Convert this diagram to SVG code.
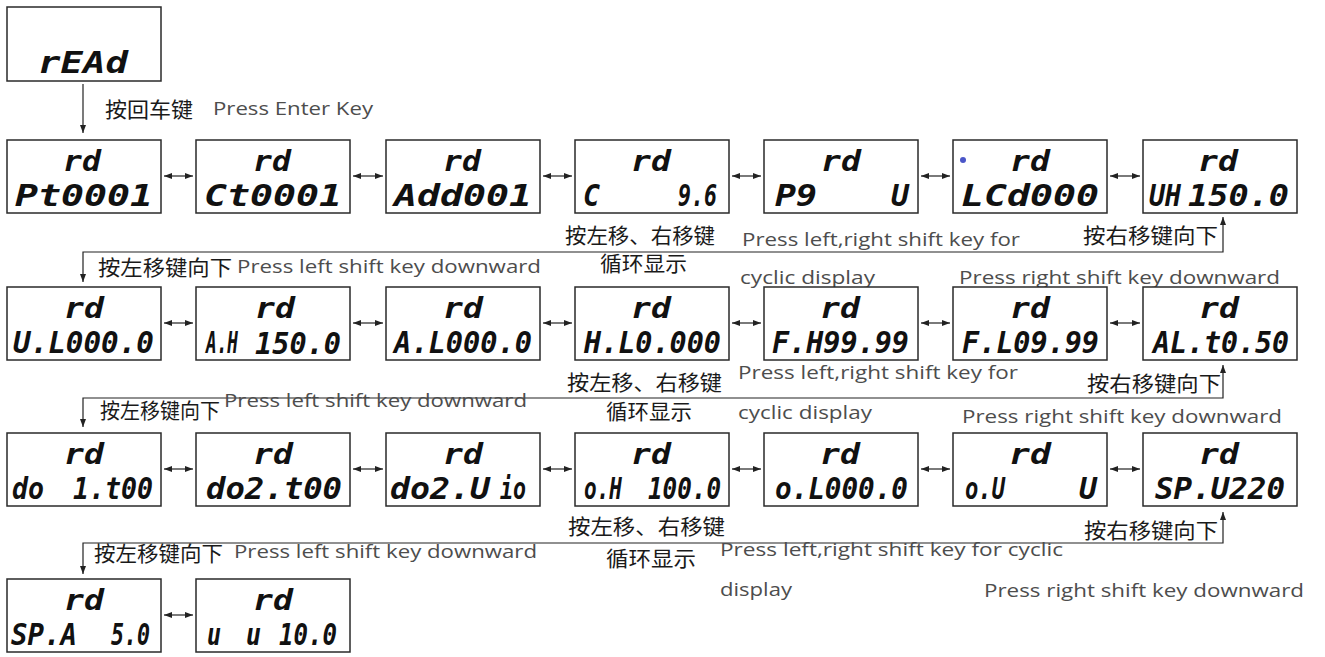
<svg xmlns="http://www.w3.org/2000/svg" width="1325" height="657" viewBox="0 0 1325 657">
<style>
.box{fill:#fff;stroke:#2a2a2a;stroke-width:1.5}
.lcd{font-family:"DejaVu Sans Mono",monospace;font-weight:bold;font-style:italic;font-size:30px;fill:#111}
.rd{font-family:"DejaVu Sans Mono",monospace;font-weight:bold;font-style:italic;font-size:29px;fill:#111}
.cn{font-family:"Noto Sans CJK SC","Noto Sans",sans-serif;font-size:21px;fill:#1a1a1a}
.en{font-family:"Open Sans","Noto Sans",sans-serif;font-size:18px;fill:#4d4d4d}
.ln{fill:none;stroke:#222;stroke-width:1.2}
</style>
<defs>
<marker id="ah" viewBox="0 0 8 6" markerWidth="8" markerHeight="6" refX="8" refY="3" orient="auto-start-reverse" markerUnits="userSpaceOnUse">
<path d="M0,0 L8,3 L0,6 z" fill="#222"/>
</marker>
</defs>

<g id="connectors">
<path class="ln" d="M83,84 V133" marker-end="url(#ah)"/>
<path class="ln" d="M1223,217 V252 H83 V282" marker-start="url(#ah)" marker-end="url(#ah)"/>
<path class="ln" d="M1223,365 V398 H83 V427" marker-start="url(#ah)" marker-end="url(#ah)"/>
<path class="ln" d="M1223,512 V543 H83 V574" marker-start="url(#ah)" marker-end="url(#ah)"/>
<path class="ln" d="M164,176 H193" marker-start="url(#ah)" marker-end="url(#ah)"/>
<path class="ln" d="M353,176 H383" marker-start="url(#ah)" marker-end="url(#ah)"/>
<path class="ln" d="M543,176 H572" marker-start="url(#ah)" marker-end="url(#ah)"/>
<path class="ln" d="M732,176 H761" marker-start="url(#ah)" marker-end="url(#ah)"/>
<path class="ln" d="M921,176 H950" marker-start="url(#ah)" marker-end="url(#ah)"/>
<path class="ln" d="M1110,176 H1140" marker-start="url(#ah)" marker-end="url(#ah)"/>
<path class="ln" d="M164,323 H193" marker-start="url(#ah)" marker-end="url(#ah)"/>
<path class="ln" d="M353,323 H383" marker-start="url(#ah)" marker-end="url(#ah)"/>
<path class="ln" d="M543,323 H572" marker-start="url(#ah)" marker-end="url(#ah)"/>
<path class="ln" d="M732,323 H761" marker-start="url(#ah)" marker-end="url(#ah)"/>
<path class="ln" d="M921,323 H950" marker-start="url(#ah)" marker-end="url(#ah)"/>
<path class="ln" d="M1110,323 H1140" marker-start="url(#ah)" marker-end="url(#ah)"/>
<path class="ln" d="M164,469 H193" marker-start="url(#ah)" marker-end="url(#ah)"/>
<path class="ln" d="M353,469 H383" marker-start="url(#ah)" marker-end="url(#ah)"/>
<path class="ln" d="M543,469 H572" marker-start="url(#ah)" marker-end="url(#ah)"/>
<path class="ln" d="M732,469 H761" marker-start="url(#ah)" marker-end="url(#ah)"/>
<path class="ln" d="M921,469 H950" marker-start="url(#ah)" marker-end="url(#ah)"/>
<path class="ln" d="M1110,469 H1140" marker-start="url(#ah)" marker-end="url(#ah)"/>
<path class="ln" d="M164,615 H193" marker-start="url(#ah)" marker-end="url(#ah)"/>
</g>

<g id="labels">
<text class="cn" x="105" y="117" textLength="88" lengthAdjust="spacingAndGlyphs">按回车键</text>
<text class="en" x="213" y="115" textLength="160" lengthAdjust="spacingAndGlyphs">Press Enter Key</text>

<text class="cn" x="565" y="243" textLength="150" lengthAdjust="spacingAndGlyphs">按左移、右移键</text>
<text class="cn" x="600" y="271" textLength="87" lengthAdjust="spacingAndGlyphs">循环显示</text>
<text class="en" x="742" y="246" textLength="278" lengthAdjust="spacingAndGlyphs">Press left,right shift key for</text>
<text class="en" x="740" y="284" textLength="135" lengthAdjust="spacingAndGlyphs">cyclic display</text>
<text class="cn" x="1083" y="243" textLength="135" lengthAdjust="spacingAndGlyphs">按右移键向下</text>
<text class="en" x="959" y="284" textLength="321" lengthAdjust="spacingAndGlyphs">Press right shift key downward</text>
<text class="cn" x="98" y="275" textLength="134" lengthAdjust="spacingAndGlyphs">按左移键向下</text>
<text class="en" x="237" y="273" textLength="304" lengthAdjust="spacingAndGlyphs">Press left shift key downward</text>

<text class="cn" x="567" y="390" textLength="155" lengthAdjust="spacingAndGlyphs">按左移、右移键</text>
<text class="cn" x="606" y="419" textLength="86" lengthAdjust="spacingAndGlyphs">循环显示</text>
<text class="en" x="738" y="379" textLength="280" lengthAdjust="spacingAndGlyphs">Press left,right shift key for</text>
<text class="en" x="738" y="419" textLength="134" lengthAdjust="spacingAndGlyphs">cyclic display</text>
<text class="cn" x="1087" y="391" textLength="134" lengthAdjust="spacingAndGlyphs">按右移键向下</text>
<text class="en" x="962" y="423" textLength="320" lengthAdjust="spacingAndGlyphs">Press right shift key downward</text>
<text class="cn" x="100" y="418" textLength="120" lengthAdjust="spacingAndGlyphs">按左移键向下</text>
<text class="en" x="224" y="407" textLength="303" lengthAdjust="spacingAndGlyphs">Press left shift key downward</text>

<text class="cn" x="568" y="534" textLength="157" lengthAdjust="spacingAndGlyphs">按左移、右移键</text>
<text class="cn" x="606" y="566" textLength="90" lengthAdjust="spacingAndGlyphs">循环显示</text>
<text class="en" x="720" y="556" textLength="343" lengthAdjust="spacingAndGlyphs">Press left,right shift key for cyclic</text>
<text class="en" x="720" y="596" textLength="72" lengthAdjust="spacingAndGlyphs">display</text>
<text class="cn" x="1084" y="538" textLength="134" lengthAdjust="spacingAndGlyphs">按右移键向下</text>
<text class="en" x="984" y="597" textLength="320" lengthAdjust="spacingAndGlyphs">Press right shift key downward</text>
<text class="cn" x="94" y="561" textLength="129" lengthAdjust="spacingAndGlyphs">按左移键向下</text>
<text class="en" x="234" y="558" textLength="303" lengthAdjust="spacingAndGlyphs">Press left shift key downward</text>
</g>

<g id="read"><rect class="box" x="7" y="7" width="154" height="74"/><text class="lcd" x="38" y="73" font-size="36" textLength="90" lengthAdjust="spacingAndGlyphs">rEAd</text></g>

<g id="pt"><rect class="box" x="7" y="140" width="154" height="73"/><text class="rd" x="63" y="171" textLength="38" lengthAdjust="spacingAndGlyphs">rd</text><text class="lcd" x="15" y="206" textLength="138" lengthAdjust="spacingAndGlyphs">Pt0001</text></g>
<g id="ct"><rect class="box" x="196" y="140" width="154" height="73"/><text class="rd" x="253" y="171" textLength="38" lengthAdjust="spacingAndGlyphs">rd</text><text class="lcd" x="204" y="206" textLength="138" lengthAdjust="spacingAndGlyphs">Ct0001</text></g>
<g id="add"><rect class="box" x="386" y="140" width="154" height="73"/><text class="rd" x="443" y="171" textLength="38" lengthAdjust="spacingAndGlyphs">rd</text><text class="lcd" x="394" y="206" textLength="138" lengthAdjust="spacingAndGlyphs">Add001</text></g>
<g id="c"><rect class="box" x="575" y="140" width="154" height="73"/><text class="rd" x="631" y="171" textLength="40" lengthAdjust="spacingAndGlyphs">rd</text><text class="lcd" x="583" y="206" textLength="17" lengthAdjust="spacingAndGlyphs">C</text><text class="lcd" x="678" y="206" textLength="39" lengthAdjust="spacingAndGlyphs">9.6</text></g>
<g id="pg"><rect class="box" x="764" y="140" width="154" height="73"/><text class="rd" x="821" y="171" textLength="40" lengthAdjust="spacingAndGlyphs">rd</text><text class="lcd" x="775" y="206" textLength="42" lengthAdjust="spacingAndGlyphs">P9</text><text class="lcd" x="891" y="206" textLength="18" lengthAdjust="spacingAndGlyphs">U</text></g>
<g id="lcd"><rect class="box" x="953" y="140" width="154" height="73"/><circle cx="963" cy="160" r="3" fill="#4a56c8"/><text class="rd" x="1010" y="171" textLength="40" lengthAdjust="spacingAndGlyphs">rd</text><text class="lcd" x="961" y="206" textLength="138" lengthAdjust="spacingAndGlyphs">LCd000</text></g>
<g id="uh"><rect class="box" x="1143" y="140" width="154" height="73"/><text class="rd" x="1198" y="171" textLength="40" lengthAdjust="spacingAndGlyphs">rd</text><text class="lcd" x="1149" y="206" textLength="32" lengthAdjust="spacingAndGlyphs">UH</text><text class="lcd" x="1188" y="206" textLength="101" lengthAdjust="spacingAndGlyphs">150.0</text></g>

<g id="ul"><rect class="box" x="7" y="287" width="154" height="73"/><text class="rd" x="64" y="318" textLength="40" lengthAdjust="spacingAndGlyphs">rd</text><text class="lcd" x="13" y="353" textLength="141" lengthAdjust="spacingAndGlyphs">U.L000.0</text></g>
<g id="ah1"><rect class="box" x="196" y="287" width="154" height="73"/><text class="rd" x="255" y="317.5" textLength="40" lengthAdjust="spacingAndGlyphs">rd</text><text class="lcd" x="206" y="353" font-size="26" textLength="32" lengthAdjust="spacingAndGlyphs">A.H</text><text class="lcd" x="255" y="353.5" textLength="86" lengthAdjust="spacingAndGlyphs">150.0</text></g>
<g id="al"><rect class="box" x="386" y="287" width="154" height="73"/><text class="rd" x="443" y="318" textLength="40" lengthAdjust="spacingAndGlyphs">rd</text><text class="lcd" x="394" y="353" textLength="138" lengthAdjust="spacingAndGlyphs">A.L000.0</text></g>
<g id="hl"><rect class="box" x="575" y="287" width="154" height="73"/><text class="rd" x="631" y="318" textLength="40" lengthAdjust="spacingAndGlyphs">rd</text><text class="lcd" x="584" y="353" textLength="137" lengthAdjust="spacingAndGlyphs">H.L0.000</text></g>
<g id="fh"><rect class="box" x="764" y="287" width="154" height="73"/><text class="rd" x="820" y="318" textLength="40" lengthAdjust="spacingAndGlyphs">rd</text><text class="lcd" x="772" y="353" textLength="137" lengthAdjust="spacingAndGlyphs">F.H99.99</text></g>
<g id="fl"><rect class="box" x="953" y="287" width="154" height="73"/><text class="rd" x="1010" y="318" textLength="40" lengthAdjust="spacingAndGlyphs">rd</text><text class="lcd" x="962" y="353" textLength="137" lengthAdjust="spacingAndGlyphs">F.L09.99</text></g>
<g id="alt"><rect class="box" x="1143" y="287" width="154" height="73"/><text class="rd" x="1199" y="318" textLength="40" lengthAdjust="spacingAndGlyphs">rd</text><text class="lcd" x="1153" y="353" textLength="136" lengthAdjust="spacingAndGlyphs">AL.t0.50</text></g>

<g id="do1"><rect class="box" x="7" y="433" width="154" height="73"/><text class="rd" x="64" y="464" textLength="40" lengthAdjust="spacingAndGlyphs">rd</text><text class="lcd" x="12" y="499" textLength="32" lengthAdjust="spacingAndGlyphs">do</text><text class="lcd" x="73" y="499" textLength="80" lengthAdjust="spacingAndGlyphs">1.t00</text></g>
<g id="do2t"><rect class="box" x="196" y="433" width="154" height="73"/><text class="rd" x="253" y="464" textLength="40" lengthAdjust="spacingAndGlyphs">rd</text><text class="lcd" x="206" y="499" textLength="136" lengthAdjust="spacingAndGlyphs">do2.t00</text></g>
<g id="do2u"><rect class="box" x="386" y="433" width="154" height="73"/><text class="rd" x="443" y="464" textLength="40" lengthAdjust="spacingAndGlyphs">rd</text><text class="lcd" x="390" y="499" textLength="100" lengthAdjust="spacingAndGlyphs">do2.U</text><text class="lcd" x="500" y="499" textLength="26" lengthAdjust="spacingAndGlyphs">io</text></g>
<g id="oh"><rect class="box" x="575" y="433" width="154" height="73"/><text class="rd" x="631" y="464" textLength="40" lengthAdjust="spacingAndGlyphs">rd</text><text class="lcd" x="584" y="499" textLength="38" lengthAdjust="spacingAndGlyphs">o.H</text><text class="lcd" x="648" y="499" textLength="73" lengthAdjust="spacingAndGlyphs">100.0</text></g>
<g id="ol"><rect class="box" x="764" y="433" width="154" height="73"/><text class="rd" x="820" y="464" textLength="40" lengthAdjust="spacingAndGlyphs">rd</text><text class="lcd" x="775" y="499" textLength="133" lengthAdjust="spacingAndGlyphs">o.L000.0</text></g>
<g id="ou"><rect class="box" x="953" y="433" width="154" height="73"/><text class="rd" x="1009" y="464" textLength="42" lengthAdjust="spacingAndGlyphs">rd</text><text class="lcd" x="965" y="499" textLength="40" lengthAdjust="spacingAndGlyphs">o.U</text><text class="lcd" x="1079" y="499" textLength="18" lengthAdjust="spacingAndGlyphs">U</text></g>
<g id="spu"><rect class="box" x="1143" y="433" width="154" height="73"/><text class="rd" x="1199" y="464" textLength="40" lengthAdjust="spacingAndGlyphs">rd</text><text class="lcd" x="1155" y="499" textLength="130" lengthAdjust="spacingAndGlyphs">SP.U220</text></g>

<g id="spa"><rect class="box" x="7" y="579" width="154" height="73"/><text class="rd" x="64" y="610" textLength="40" lengthAdjust="spacingAndGlyphs">rd</text><text class="lcd" x="11" y="645" textLength="66" lengthAdjust="spacingAndGlyphs">SP.A</text><text class="lcd" x="111" y="645" textLength="39" lengthAdjust="spacingAndGlyphs">5.0</text></g>
<g id="u"><rect class="box" x="196" y="579" width="154" height="73"/><text class="rd" x="253" y="610" textLength="40" lengthAdjust="spacingAndGlyphs">rd</text><text class="lcd" x="207" y="645" textLength="14" lengthAdjust="spacingAndGlyphs">u</text><text class="lcd" x="246" y="645" textLength="15" lengthAdjust="spacingAndGlyphs">u</text><text class="lcd" x="279" y="645" textLength="58" lengthAdjust="spacingAndGlyphs">10.0</text></g>
</svg>
